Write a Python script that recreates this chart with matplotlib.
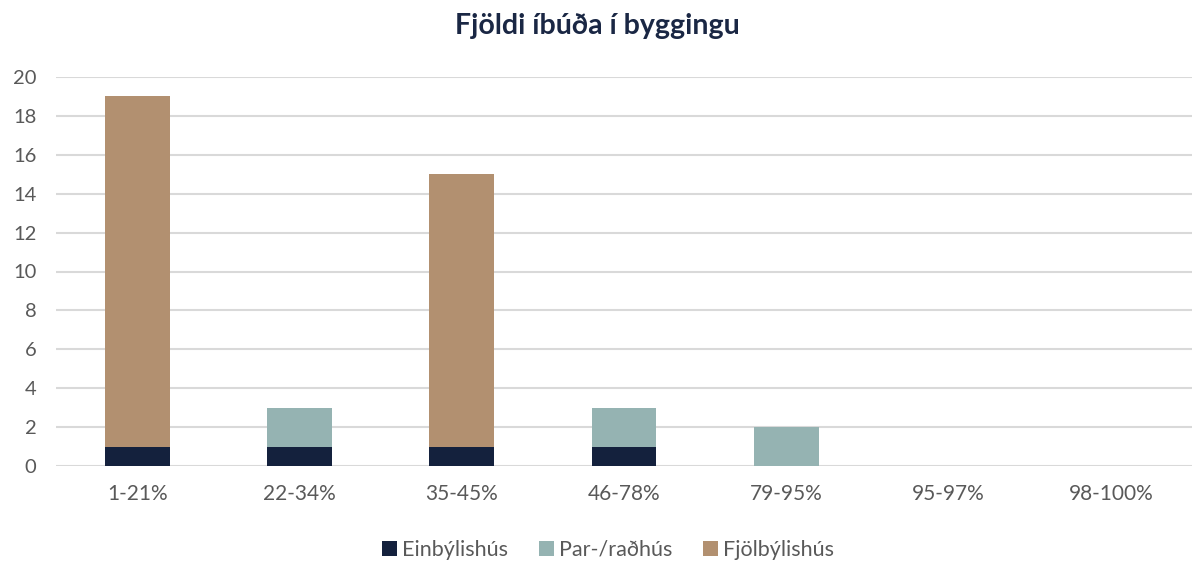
import matplotlib
matplotlib.use("Agg")
import matplotlib.pyplot as plt
import numpy as np

categories = ["1-21%", "22-34%", "35-45%", "46-78%", "79-95%", "95-97%", "98-100%"]
einbyli = [1, 1, 1, 1, 0, 0, 0]
parrad = [0, 2, 0, 2, 2, 0, 0]
fjolbyli = [18, 0, 14, 0, 0, 0, 0]
series_names = ["Einbýlishús", "Par-/raðhús", "Fjölbýlishús"]
colors = ["#14213D", "#95B3B2", "#B29070"]
title = "Fjöldi íbúða í byggingu"

plt.rcParams['font.family'] = ['Lato', 'DejaVu Sans']

fig = plt.figure(figsize=(11.94, 5.64), dpi=100)
ax = fig.add_axes([56/1194, (564-466)/564, (1192-56)/1194, (466-77)/564])

x = np.arange(len(categories))
w = 0.4
bottom = np.zeros(len(categories))
for vals, name, c in zip([einbyli, parrad, fjolbyli], series_names, colors):
    ax.bar(x, vals, w, bottom=bottom, color=c, label=name, zorder=3)
    bottom += np.array(vals)

ax.set_xlim(-0.5, len(categories) - 0.5)
ax.set_ylim(0, 20)
ax.set_yticks(range(0, 21, 2))
ax.set_xticks(x)
ax.set_xticklabels(categories)
ax.grid(axis='y', color='#d9d9d9', linewidth=1.5, zorder=0)
for s in ax.spines.values():
    s.set_visible(False)
ax.tick_params(axis='both', length=0, labelsize=14.5, colors='#595959')
ax.tick_params(axis='x', labelsize=15, pad=13)
ax.tick_params(axis='y', pad=14)

fig.text(0.5, 1 - 26/564, title, ha='center', va='center', fontsize=20.5, fontweight='bold', color='#1a2744')

leg = fig.legend(loc='center', bbox_to_anchor=(608/1194, 1 - 550/564), ncol=3, frameon=False,
                 fontsize=15.5, handlelength=0.7, handleheight=0.7, columnspacing=1.4, handletextpad=0.25)
for t in leg.get_texts():
    t.set_color('#595959')

fig.savefig("out.png", dpi=100)
